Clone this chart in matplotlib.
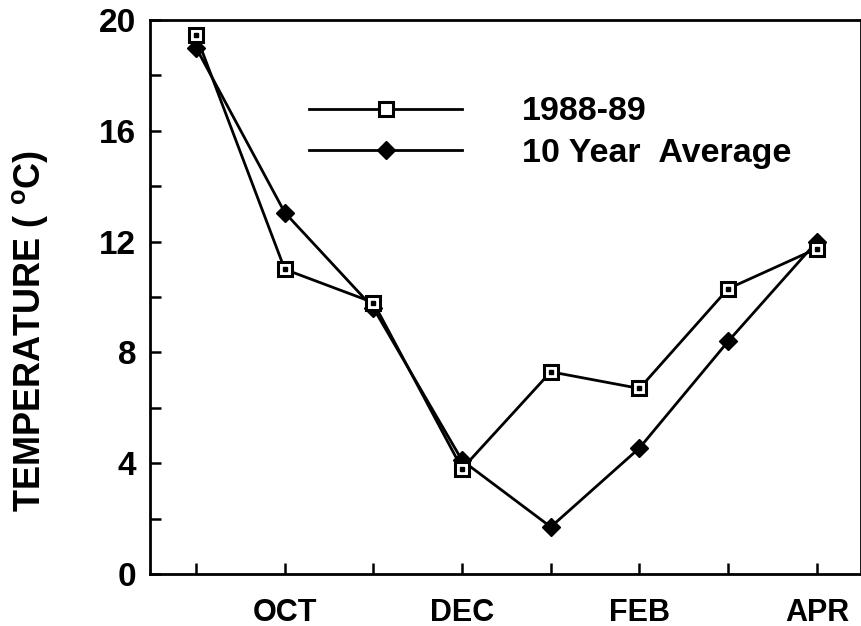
import numpy as np
import matplotlib.pyplot as plt

plt.rcParams['font.family'] = ['Liberation Sans', 'DejaVu Sans']
plt.rcParams['font.weight'] = 'bold'
plt.rcParams['mathtext.fontset'] = 'custom'
plt.rcParams['mathtext.rm'] = 'Liberation Sans:bold'
plt.rcParams['mathtext.bf'] = 'Liberation Sans:bold'

# месяцы с сентября по апрель
months = ['SEP', 'OCT', 'NOV', 'DEC', 'JAN', 'FEB', 'MAR', 'APR']
temp_8889 = [19.45, 11.0, 9.8, 3.8, 7.3, 6.7, 10.3, 11.75]
temp_10yr = [19.0, 13.05, 9.6, 4.1, 1.7, 4.55, 8.4, 12.0]
shown_labels = ['', 'OCT', '', 'DEC', '', 'FEB', '', 'APR']
y_ticks = [0, 4, 8, 12, 16, 20]

x = np.arange(len(months))

fig = plt.figure(figsize=(8.62, 6.26), dpi=100)
ax = fig.add_axes([0.174, 0.083, 0.825, 0.885])

ax.plot(x, temp_10yr, color='black', lw=2.0, marker='D', ms=9,
        mfc='black', mec='black', label='10 Year  Average', zorder=3)
ax.plot(x, temp_8889, color='black', lw=2.0, marker='s', ms=10.5,
        mfc='white', mec='black', mew=2.2, label='1988-89', zorder=4)
ax.plot(x, temp_8889, ls='none', marker='s', ms=2.2, color='black', zorder=5)

ax.set_xlim(-0.52, 7.5)
ax.set_ylim(0, 20)
ax.set_xticks(x)
ax.set_xticklabels(shown_labels)
ax.set_yticks(y_ticks)
ax.set_yticks([2, 6, 10, 14, 18], minor=True)

ax.tick_params(axis='both', which='both', direction='in', length=8, width=1.8,
               labelsize=24)
ax.tick_params(axis='x', pad=17, labelsize=22)
ax.tick_params(axis='y', pad=10)
for s in ax.spines.values():
    s.set_linewidth(2.0)

ax.set_ylabel(r'TEMPERATURE ( $^{\rm o}$C)', fontsize=26, fontweight='bold')
ax.yaxis.set_label_coords(-0.14, 0.438)

h, l = ax.get_legend_handles_labels()
ax.legend([h[1], h[0]], [l[1], l[0]], loc='upper left',
          bbox_to_anchor=(0.224, 0.862), frameon=False, fontsize=24.5,
          handlelength=4.5, handletextpad=1.75, borderpad=0, borderaxespad=0,
          labelspacing=0.32)

fig.savefig('out.png', dpi=100)
